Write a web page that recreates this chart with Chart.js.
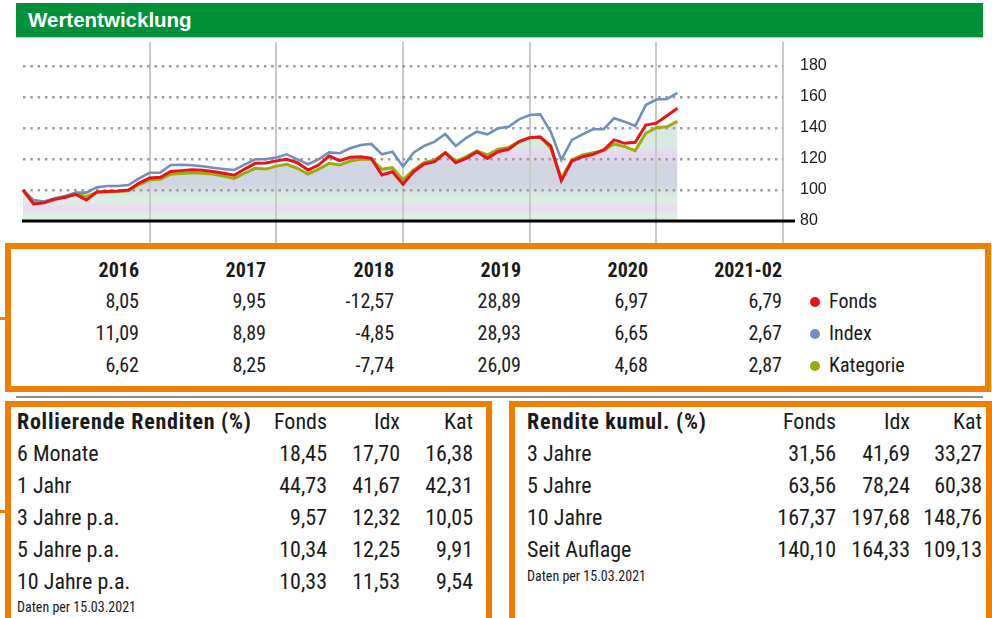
<!DOCTYPE html>
<html lang="de">
<head>
<meta charset="utf-8">
<title>Wertentwicklung</title>
<script src="https://cdn.jsdelivr.net/npm/chart.js@4.4.1/dist/chart.umd.min.js"></script>
<style>
  body { margin: 0; background: #fff; }
  #page { position: relative; width: 992px; height: 618px; overflow: hidden;
          font-family: "Liberation Sans", Arial, sans-serif; color: #1a1a1a; }
  .head { position: absolute; left: 16px; top: 3px; width: 967px; height: 34px;
          background: #00913a; border-bottom: 1px solid #a8dab8; }
  .head span { position: absolute; left: 12px; top: 0; line-height: 34px;
               font-size: 20.5px; font-weight: bold; color: #fff; }
  #chartBox { position: absolute; left: 0; top: 40px; width: 860px; height: 205px; }
  .box { position: absolute; box-sizing: border-box; border: 6px solid #ef7f00; background: #fff; }
  .rule { position: absolute; left: 16px; top: 396px; width: 967px; height: 2px; background: #8c8c8c; }
  .stub { position: absolute; left: 0; width: 6px; height: 3px; background: #ef7f00; }
  .t { position: absolute; white-space: nowrap; line-height: 32px;
       font-family: "Liberation Sans Narrow", "Arial Narrow", "Roboto Condensed", sans-serif; }
  .dot { position: absolute; width: 10px; height: 10px; border-radius: 50%; }
</style>
</head>
<body>
<div id="page">
  <div class="head"><span>Wertentwicklung</span></div>
  <div id="chartBox"><canvas id="wertChart" width="860" height="205"></canvas></div>
  <div class="box" style="left:5px; top:243px; width:986px; height:149px;"></div>
  <div class="rule"></div>
  <div class="box" style="left:5px; top:401px; width:487px; height:240px;"></div>
  <div class="box" style="left:509px; top:401px; width:483px; height:240px;"></div>
  <div class="stub" style="top:317px;"></div>
  <div class="stub" style="top:510px;"></div>
</div>
<script>
// indexed performance, monthly from Jan 2016 to Mar 2021 (start = 100)
const fonds = [100, 91, 91.8, 94, 95.3, 97.2, 93.5, 98.7, 99, 99.3, 100, 104.5,
  107.8, 108.2, 112, 112.5, 113, 112.7, 112, 110.8, 109.5, 113.5, 117.2, 117.4, 118.8,
  119.8, 117.6, 112.9, 116.1, 121.9, 118.9, 121.1, 121.5, 120.4, 109.7, 111.8, 103.8,
  111.8, 116.8, 118.3, 124.1, 117.6, 120.4, 124.7, 120.4, 124.7, 126.3, 131.2, 133.8, 134.2,
  128.4, 106, 118.7, 121.5, 123, 125.8, 132.3, 130.1, 130.8, 141.9, 143.1, 147.9, 152.8];
const index = [100, 93.5, 92.5, 94.6, 96.1, 98.3, 98.3, 101.7, 102.6, 102.6, 103.2, 107.5,
  111.1, 111.2, 116.1, 116.3, 116, 115.3, 114.4, 113.6, 112.9, 116.4, 119.8, 119.8, 121,
  123, 119.8, 116.6, 119.8, 124.3, 123.7, 126.9, 129, 129.7, 123, 124.7, 115.1,
  124.1, 128.4, 131.2, 136.1, 128.4, 133.7, 137.6, 135.9, 139.8, 140.8, 145.6, 148.4, 148.8,
  137.6, 119.4, 132.3, 135.9, 139.2, 139.2, 146.3, 144.1, 141.3, 154.8, 158.4, 158.7, 162.7];
const kategorie = [100, 91.8, 92.3, 94.3, 95.5, 97.4, 95.8, 98.5, 98.8, 99, 99.5, 103.5,
  106.6, 106.9, 110.3, 110.7, 111.2, 110.8, 110.3, 109, 107.5, 110.8, 114, 113.5, 115.4,
  116.6, 114, 110.3, 113.4, 117.2, 116.1, 118.7, 119.8, 119.8, 113.4, 114.4, 106.5,
  112.9, 117.6, 119.4, 124.1, 118.7, 121.5, 125.2, 122.6, 126.3, 127.5, 131.2, 133.9, 134.2,
  126.9, 107.5, 119.4, 122.6, 124.1, 125.4, 129.7, 128, 125.4, 136.6, 140.2, 140.8, 144.3];

// calendar year returns
const years = ['2016', '2017', '2018', '2019', '2020', '2021-02'];
const fondsYear = ['8,05', '9,95', '-12,57', '28,89', '6,97', '6,79'];
const indexYear = ['11,09', '8,89', '-4,85', '28,93', '6,65', '2,67'];
const katYear = ['6,62', '8,25', '-7,74', '26,09', '4,68', '2,87'];
const seriesNames = ['Fonds', 'Index', 'Kategorie'];
const seriesColors = ['#e8121b', '#7090b9', '#9aab0a'];

// rolling returns
const rollLabels = ['6 Monate', '1 Jahr', '3 Jahre p.a.', '5 Jahre p.a.', '10 Jahre p.a.'];
const rollFonds = ['18,45', '44,73', '9,57', '10,34', '10,33'];
const rollIdx = ['17,70', '41,67', '12,32', '12,25', '11,53'];
const rollKat = ['16,38', '42,31', '10,05', '9,91', '9,54'];

// cumulative returns
const cumLabels = ['3 Jahre', '5 Jahre', '10 Jahre', 'Seit Auflage'];
const cumFonds = ['31,56', '63,56', '167,37', '140,10'];
const cumIdx = ['41,69', '78,24', '197,68', '164,33'];
const cumKat = ['33,27', '60,38', '148,76', '109,13'];

const yTicks = [80, 100, 120, 140, 160, 180];

// month categories Jan 2016 .. Jan 2022
const months = [];
for (let y = 2016; y <= 2022; y++) {
  for (let m = 1; m <= 12; m++) {
    if (y === 2022 && m > 1) break;
    months.push((m < 10 ? '0' : '') + m + '.' + y);
  }
}

// ---- text tables ----
const page = document.getElementById('page');
function put(str, x, top, size, opts) {
  opts = opts || {};
  const d = document.createElement('div');
  d.className = 't';
  d.textContent = str;
  d.style.top = top + 'px';
  d.style.fontSize = size + 'px';
  if (opts.bold) d.style.fontWeight = 'bold';
  if (opts.ls) d.style.letterSpacing = opts.ls + 'px';
  if (opts.right) d.style.right = (992 - x) + 'px'; else d.style.left = x + 'px';
  if (opts.lh) d.style.lineHeight = opts.lh + 'px';
  page.appendChild(d);
}

const yearCols = [139, 266, 394, 521, 648, 782];
const yearRows = [fondsYear, indexYear, katYear];
years.forEach((y, i) => put(y, yearCols[i], 254, 20, {bold: true, right: true}));
yearRows.forEach((row, r) => {
  const top = 285 + r * 32;
  row.forEach((v, i) => put(v, yearCols[i], top, 20, {right: true}));
  const dot = document.createElement('div');
  dot.className = 'dot';
  dot.style.left = '810px';
  dot.style.top = (top + 12) + 'px';
  dot.style.background = seriesColors[r];
  page.appendChild(dot);
  put(seriesNames[r], 829, top, 20);
});

function table(x0, cols, title, labels, a, b, c, noteTop) {
  put(title, x0, 406, 22, {bold: true, ls: 0.75});
  put('Fonds', cols[0], 406, 22, {right: true});
  put('Idx', cols[1], 406, 22, {right: true});
  put('Kat', cols[2], 406, 22, {right: true});
  labels.forEach((l, i) => {
    const top = 438 + i * 32;
    put(l, x0, top, 22);
    put(a[i], cols[0], top, 22, {right: true});
    put(b[i], cols[1], top, 22, {right: true});
    put(c[i], cols[2], top, 22, {right: true});
  });
  put('Daten per 15.03.2021', x0, noteTop, 14, {lh: 16});
}
table(17, [327, 400, 473], 'Rollierende Renditen (%)', rollLabels, rollFonds, rollIdx, rollKat, 599);
table(527, [836, 910, 982], 'Rendite kumul. (%)', cumLabels, cumFonds, cumIdx, cumKat, 568);

// ---- chart ----
Chart.defaults.font.family = '"Liberation Sans", Arial, sans-serif';

// pastel horizontal bands under the Kategorie line
function bandFill(context) {
  const chart = context.chart;
  if (!chart.chartArea) return '#dde3e8';
  const y = chart.scales.y;
  const p80 = y.getPixelForValue(80), p160 = y.getPixelForValue(160);
  const g = chart.ctx.createLinearGradient(0, p80, 0, p160);
  const stops = [[80, '#dbf2e4'], [84, '#e0eee6'], [88, '#ead9f0'], [92, '#e2ebe8'],
    [96, '#d8ede2'], [100, '#d6dfe4'], [104, '#d1d5e2'], [116, '#d1d5e2'], [120, '#e3d5ee'],
    [124, '#e6d8ef'], [128, '#dbe9e4'], [136, '#d9e9e2'], [140, '#dee1ea'], [150, '#d3d7e3'], [160, '#d3d7e3']];
  stops.forEach(s => g.addColorStop((s[0] - 80) / 80, s[1]));
  return g;
}

const baseline = {
  id: 'baseline',
  afterDatasetsDraw(chart) {
    const ctx = chart.ctx, area = chart.chartArea;
    const y = chart.scales.y.getPixelForValue(80);
    ctx.save();
    ctx.strokeStyle = '#000';
    ctx.lineWidth = 3;
    ctx.beginPath();
    ctx.moveTo(area.left - 1, y);
    ctx.lineTo(area.right + 12, y);
    ctx.stroke();
    ctx.restore();
  }
};

new Chart('wertChart', {
  type: 'line',
  data: {
    labels: months,
    datasets: [
      { label: 'Fonds', data: fonds, borderColor: seriesColors[0], borderWidth: 3, fill: false },
      { label: 'Index', data: index, borderColor: seriesColors[1], borderWidth: 2.6, fill: false },
      { label: 'Kategorie', data: kategorie, borderColor: seriesColors[2], borderWidth: 3,
        fill: { value: 80 }, backgroundColor: bandFill }
    ]
  },
  options: {
    responsive: false,
    animation: false,
    devicePixelRatio: 1,
    elements: { point: { radius: 0 }, line: { tension: 0 } },
    layout: { padding: { left: 23, top: 2, right: 0, bottom: 2 } },
    plugins: {
      legend: { display: false },
      tooltip: { enabled: false },
      filler: { drawTime: 'beforeDraw' }
    },
    scales: {
      x: {
        ticks: { display: false, autoSkip: false },
        border: { display: false },
        grid: {
          drawTicks: false,
          lineWidth: 2,
          color: c => (c.index > 0 && c.index % 12 === 0) ? '#c9c9c9' : 'rgba(0,0,0,0)'
        },
        afterFit: s => { s.height = 0; s.paddingLeft = 0; s.paddingRight = 0; }
      },
      y: {
        position: 'right',
        min: 65.81,
        max: 195.48,
        afterBuildTicks: s => { s.ticks = yTicks.map(v => ({ value: v })); },
        ticks: { padding: 17, color: '#1a1a1a', font: { size: 16 } },
        border: { display: false, dash: [2.5, 4.8] },
        grid: {
          drawTicks: false,
          lineWidth: 2.5,
          color: c => (c.tick && c.tick.value === 80) ? 'rgba(0,0,0,0)' : '#9c9c9c'
        },
        afterFit: s => { s.width = 77; s.paddingTop = 0; s.paddingBottom = 0; }
      }
    }
  },
  plugins: [baseline]
});
</script>
</body>
</html>
